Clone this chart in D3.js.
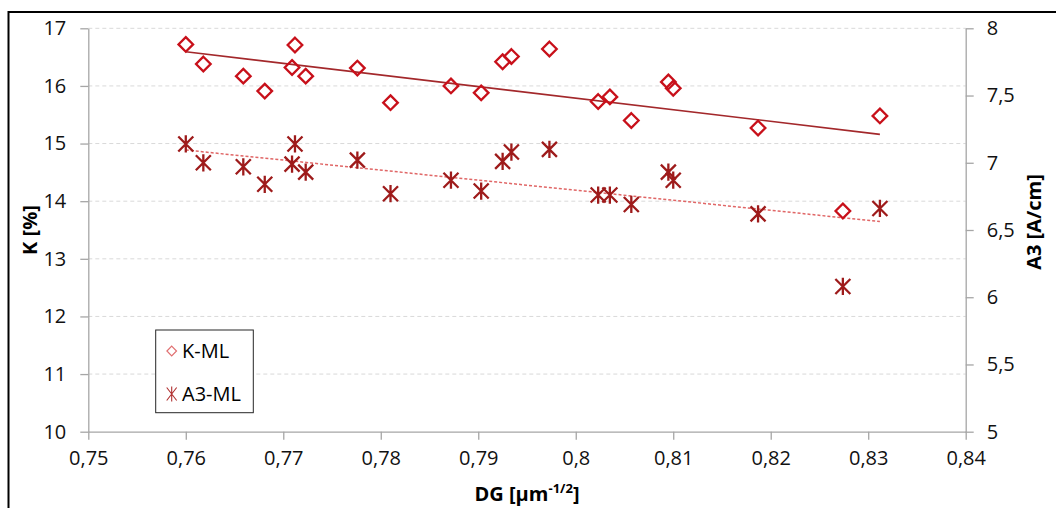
<!DOCTYPE html>
<html>
<head>
<meta charset="utf-8">
<script src="https://cdn.jsdelivr.net/npm/d3@7"></script>
<style>
  html, body { margin: 0; padding: 0; background: #fff; }
  svg { display: block; font-family: "Open Sans", "Noto Sans", sans-serif; }
</style>
</head>
<body>
<svg id="chart" width="1056" height="508"></svg>
<script>
// Grain size parameter DG [µm^-1/2] for each sample
const dg = [0.7600, 0.7618, 0.7659, 0.7681, 0.7709, 0.7712, 0.7723, 0.7776, 0.7810, 0.7872, 0.7903,
            0.7925, 0.7934, 0.7973, 0.8023, 0.8035, 0.8057, 0.8095, 0.8100, 0.8187, 0.8274, 0.8312];
// K [%] (left axis)
const kML = [16.72, 16.38, 16.17, 15.91, 16.32, 16.71, 16.17, 16.31, 15.71, 16.00, 15.88,
             16.42, 16.51, 16.64, 15.73, 15.81, 15.40, 16.07, 15.96, 15.27, 13.83, 15.48];
// A3 [A/cm] (right axis)
const a3ML = [7.14, 7.00, 6.97, 6.84, 6.99, 7.14, 6.93, 7.02, 6.77, 6.87, 6.79,
              7.01, 7.08, 7.10, 6.76, 6.76, 6.69, 6.93, 6.87, 6.62, 6.08, 6.66];

const xTicks = [0.75, 0.76, 0.77, 0.78, 0.79, 0.80, 0.81, 0.82, 0.83, 0.84];
const kTicks = [10, 11, 12, 13, 14, 15, 16, 17];
const a3Ticks = [5, 5.5, 6, 6.5, 7, 7.5, 8];
const seriesNames = ["K-ML", "A3-ML"];

const loc = d3.formatLocale({decimal: ",", thousands: ".", grouping: [3], currency: ["", ""]});
const fmt = loc.format("~g");

const svg = d3.select("#chart");
const plotL = 88.3, plotR = 965.7, plotT = 28.3, plotB = 431.7;

const x = d3.scaleLinear().domain([0.75, 0.84]).range([plotL, plotR]);
const yK = d3.scaleLinear().domain([10, 17]).range([plotB, plotT]);
const yA = d3.scaleLinear().domain([5, 8]).range([plotB, plotT]);

// outer chart frame
svg.append("rect").attr("x", 8.5).attr("y", 12).attr("width", 1080).attr("height", 560)
  .attr("fill", "none").attr("stroke", "#000").attr("stroke-width", 2);

// horizontal gridlines following the K axis
svg.append("g").selectAll("line").data(kTicks.filter(v => v > 10)).join("line")
  .attr("x1", plotL).attr("x2", plotR)
  .attr("y1", d => yK(d)).attr("y2", d => yK(d))
  .attr("stroke", "#d9d9d9").attr("stroke-width", 1).attr("stroke-dasharray", "4,3");

const axisColor = "#a6a6a6";
const labelStyle = g => {
  g.select(".domain").attr("stroke", axisColor).attr("stroke-width", 1.3);
  g.selectAll(".tick line").attr("stroke", axisColor).attr("stroke-width", 1.3);
  g.selectAll(".tick text").attr("fill", "#111").attr("font-size", 20)
    .attr("font-family", "'Open Sans', sans-serif");
};

svg.append("g").attr("transform", `translate(0,${plotB})`)
  .call(d3.axisBottom(x).tickValues(xTicks).tickFormat(fmt).tickSize(8).tickSizeOuter(0).tickPadding(11))
  .call(labelStyle);

svg.append("g").attr("transform", `translate(${plotL},0)`)
  .call(d3.axisLeft(yK).tickValues(kTicks).tickFormat(fmt).tickSize(8).tickSizeOuter(0).tickPadding(14))
  .call(labelStyle);

svg.append("g").attr("transform", `translate(${plotR},0)`)
  .call(d3.axisRight(yA).tickValues(a3Ticks).tickFormat(fmt).tickSize(8).tickSizeOuter(0).tickPadding(13))
  .call(labelStyle);

// least-squares trend line
function fit(xs, ys) {
  const mx = d3.mean(xs), my = d3.mean(ys);
  let sxy = 0, sxx = 0;
  xs.forEach((v, i) => { sxy += (v - mx) * (ys[i] - my); sxx += (v - mx) * (v - mx); });
  const b = sxy / sxx, a = my - b * mx;
  const ext = d3.extent(xs);
  return ext.map(v => [v, a + b * v]);
}

const kFit = fit(dg, kML);
const aFit = fit(dg, a3ML);

svg.append("path")
  .attr("d", d3.line().x(d => x(d[0])).y(d => yA(d[1]))(aFit))
  .attr("fill", "none").attr("stroke", "#e06666").attr("stroke-width", 1.5)
  .attr("stroke-dasharray", "3,2");

svg.append("path")
  .attr("d", d3.line().x(d => x(d[0])).y(d => yK(d[1]))(kFit))
  .attr("fill", "none").attr("stroke", "#a3282b").attr("stroke-width", 1.6);

const diamond = s => `M0,${-s}L${s},0L0,${s}L${-s},0Z`;
const star = (w, h) => `M${-w},${-h}L${w},${h}M${-w},${h}L${w},${-h}M0,${-h * 1.15}L0,${h * 1.15}`;

const pts = dg.map((v, i) => ({x: v, k: kML[i], a: a3ML[i]}));

svg.append("g").selectAll("path").data(pts).join("path")
  .attr("transform", d => `translate(${x(d.x)},${yA(d.a)})`)
  .attr("d", star(7.5, 7.5))
  .attr("fill", "none").attr("stroke", "#9e1b1b").attr("stroke-width", 2.3);

svg.append("g").selectAll("path").data(pts).join("path")
  .attr("transform", d => `translate(${x(d.x)},${yK(d.k)})`)
  .attr("d", diamond(7.3))
  .attr("fill", "none").attr("stroke", "#c8101a").attr("stroke-width", 2.3);

// axis titles
svg.append("text").attr("transform", "translate(37,230) rotate(-90)")
  .attr("text-anchor", "middle").attr("font-size", 20).attr("font-weight", "bold")
  .attr("fill", "#000").text("K [%]");

svg.append("text").attr("transform", "translate(1041,222) rotate(-90)")
  .attr("text-anchor", "middle").attr("font-size", 20).attr("font-weight", "bold")
  .attr("fill", "#000").text("A3 [A/cm]");

const xt = svg.append("text").attr("x", 527).attr("y", 501)
  .attr("text-anchor", "middle").attr("font-size", 20).attr("font-weight", "bold").attr("fill", "#000");
xt.append("tspan").text("DG [µm");
xt.append("tspan").attr("dy", -8).attr("font-size", 13).text("-1/2");
xt.append("tspan").attr("dy", 8).text("]");

// legend
const lg = svg.append("g");
lg.append("rect").attr("x", 155.7).attr("y", 330).attr("width", 97.6).attr("height", 82.7)
  .attr("fill", "#fff").attr("stroke", "#262626").attr("stroke-width", 1);
lg.append("path").attr("transform", "translate(171.7,351)").attr("d", diamond(4.8))
  .attr("fill", "none").attr("stroke", "#e06f70").attr("stroke-width", 1.2);
lg.append("path").attr("transform", "translate(171.7,394)").attr("d", star(5, 6.5))
  .attr("fill", "none").attr("stroke", "#b03030").attr("stroke-width", 1.1);
lg.selectAll("text").data(seriesNames).join("text")
  .attr("x", 182).attr("y", (d, i) => 358 + i * 43)
  .attr("font-size", 20).attr("fill", "#000").text(d => d);
</script>
</body>
</html>
